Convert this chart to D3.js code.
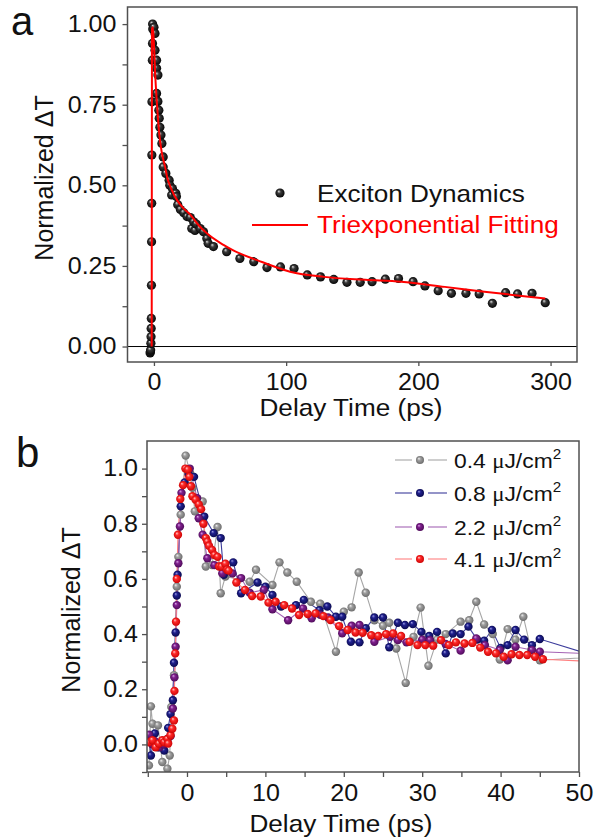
<!DOCTYPE html>
<html>
<head>
<meta charset="utf-8">
<script src="https://cdn.jsdelivr.net/npm/d3@7"></script>
<style>
  body { margin: 0; background: #fff; }
  svg text { font-family: "Liberation Sans", Arial, sans-serif; }
  .sx, .sxl, .sxr { transform-box: fill-box; transform: scaleX(1.09); }
  .sx { transform-origin: center; }
  .sxl { transform-origin: left center; }
  .sxr { transform-origin: right center; }
</style>
</head>
<body>
<svg id="fig" width="595" height="839"></svg>
<script>
// ---- panel a : exciton dynamics (ps, normalized dT)
const timeA = [-2.9, -2.7, -2.5, -2.3, -2.2, -2.1, -2.0, -1.9, -1.8, -1.7, -1.6, -1.5, -1.2, -1.1, -1.0, -0.9, 0.0, 0.8, 0.8,
  2.0, 2.0, 2.0, 3.0, 3.0, 3.7, 4.0, 4.5, 5.3, 6.0, 7.0, 7.0, 9.0, 11.5, 12.0, 13.4, 14.0, 16.5, 17.0, 18.0, 20.0, 22.5,
  25.0, 27.5, 28.6, 30.0, 31.0, 32.0, 35.0, 37.5, 40.0, 41.0, 45.0, 55, 65, 75.5, 85.5, 95.7, 106, 116, 126, 136, 146,
  156, 165, 175, 185, 196, 205, 215, 225, 236, 246, 256, 266, 275, 286, 296];
const excitonA = [-0.02, -0.016, -0.011, 0.01, 0.03, 0.056, 0.087, 0.19, 0.325, 0.444, 0.594, 0.759, 0.888, 0.94, 1.0, 0.985, 0.99, 0.971, 0.919,
  0.888, 0.863, 0.785, 0.842, 0.76, 0.733, 0.708, 0.68, 0.656, 0.63, 0.588, 0.557, 0.537, 0.516, 0.50, 0.47, 0.49, 0.475, 0.465, 0.44, 0.425, 0.415,
  0.403, 0.40, 0.366, 0.387, 0.36, 0.38, 0.366, 0.356, 0.335, 0.32, 0.31, 0.294, 0.273, 0.263, 0.245, 0.247, 0.242, 0.222, 0.216, 0.208, 0.199,
  0.199, 0.201, 0.209, 0.211, 0.201, 0.188, 0.173, 0.165, 0.165, 0.163, 0.134, 0.167, 0.163, 0.165, 0.136];
const fitT = [-1.7, -1.5, -0.8, 0.2, 1.0, 2.0, 3.0, 4.0, 6.0, 8.4, 10, 13, 17.5, 22, 27.3, 33, 40, 52.6, 60, 78, 103, 128.5, 160, 187, 220, 250, 280, 296];
const fitV = [0.0, 0.985, 0.99, 0.92, 0.84, 0.77, 0.71, 0.66, 0.6, 0.558, 0.525, 0.49, 0.454, 0.43, 0.41, 0.38, 0.351, 0.315, 0.298, 0.268, 0.232, 0.216, 0.207, 0.201, 0.185, 0.17, 0.156, 0.149];

// ---- panel b : fluence dependence
const fluenceLabels = ["0.4", "0.8", "2.2", "4.1"];
const t04 = [-4.85, -4.6, -4.4, -4.0, -3.7, -3.15, -2.5, -2.2, -2.0, -1.66, -1.3, -1.1, -0.8, -0.17, 0.4, 0.7, 1.0, 1.5, 2.0, 2.4, 3.2, 3.9, 4.3, 4.9,
  8.0, 8.8, 10.9, 11.8, 12.8, 14.0, 15.8, 17.0, 19.0, 20.0, 21.0, 21.9, 22.8, 23.9, 25.0, 25.8, 26.7, 27.9, 28.9, 29.8, 30.8, 31.9, 33.0,
  34.9, 36.0, 36.9, 37.9, 39.0, 39.9, 40.9, 41.9, 42.9, 43.9, 45.0, 60];
const v04 = [-0.076, 0.138, 0.075, 0.0, 0.069, -0.064, -0.088, -0.04, 0.136, 0.251, 0.572, 0.68, 0.833, 1.047, 0.984, 0.93, 0.845, 0.881, 0.881, 0.645, 0.65, 0.788, 0.548, 0.609,
  0.59, 0.633, 0.578, 0.66, 0.623, 0.59, 0.517, 0.51, 0.336, 0.481, 0.497, 0.623, 0.55, 0.45, 0.43, 0.441, 0.348, 0.223, 0.39, 0.496, 0.285, 0.38, 0.40,
  0.445, 0.45, 0.517, 0.435, 0.40, 0.308, 0.418, 0.38, 0.463, 0.342, 0.305, 0.33];
const t08 = [-4.85, -4.6, -4.1, -3.7, -3.3, -2.9, -2.5, -2.4, -2.1, -1.8, -1.66, -1.45, -1.3, -1.2, -0.8, -0.3, 0.2, 0.9, 2.2, 3.4, 4.3, 4.7, 5.9, 6.9,
  9.0, 10.0, 10.9, 12.0, 13.9, 14.9, 16.9, 17.9, 19.0, 19.8, 20.9, 22.0, 22.8, 23.9, 25.0, 25.8, 26.9, 27.8, 28.8, 29.9, 30.9, 31.9, 33.0, 33.9,
  34.9, 35.9, 37.0, 37.9, 38.9, 40.0, 40.9, 41.9, 43.0, 44.0, 45.0, 60];
const v08 = [0.03, -0.04, 0.04, -0.01, 0.0, -0.022, 0.02, 0.06, 0.11, 0.16, 0.296, 0.406, 0.54, 0.615, 0.863, 0.95, 0.98, 0.97, 0.826, 0.766, 0.748, 0.615, 0.66, 0.548,
  0.587, 0.572, 0.542, 0.50, 0.505, 0.524, 0.487, 0.50, 0.463, 0.463, 0.372, 0.37, 0.421, 0.46, 0.46, 0.352, 0.441, 0.433, 0.436, 0.408, 0.393, 0.408, 0.33, 0.402,
  0.40, 0.427, 0.38, 0.376, 0.415, 0.35, 0.36, 0.415, 0.38, 0.36, 0.382, 0.25];
const t22 = [-4.85, -4.4, -4.0, -3.5, -3.0, -2.5, -2.1, -1.8, -1.6, -1.45, -1.3, -1.1, -0.9, -0.7, 0.35, 1.3, 1.5, 2.0, 2.6, 3.5, 4.5, 5.8, 6.9, 8.0,
  9.8, 10.9, 12.9, 14.8, 15.9, 17.0, 18.0, 19.8, 21.0, 22.0, 23.9, 25.9, 26.9, 28.0, 30.0, 31.0, 33.0, 34.9, 36.9, 38.0, 39.9, 40.9, 41.9, 44.0, 45.0, 60];
const v22 = [0.035, 0.0, 0.01, -0.01, 0.0, 0.01, 0.03, 0.13, 0.243, 0.354, 0.505, 0.657, 0.79, 0.912, 1.0, 0.893, 0.82, 0.76, 0.675, 0.65, 0.62, 0.62, 0.603, 0.55,
  0.56, 0.49, 0.45, 0.493, 0.457, 0.47, 0.46, 0.403, 0.43, 0.433, 0.372, 0.39, 0.378, 0.37, 0.38, 0.378, 0.364, 0.34, 0.384, 0.36, 0.342, 0.305, 0.354, 0.342, 0.336, 0.32];
const t41 = [-4.85, -4.4, -4.0, -3.6, -3.15, -2.9, -2.5, -2.4, -2.1, -1.87, -1.66, -1.6, -1.5, -1.4, -1.3, -1.15, -0.85, -0.5, -0.2, 0.1, 0.3, 0.5, 0.7,
  1.1, 1.5, 1.8, 2.1, 2.4, 2.6, 2.8, 3.2, 3.5, 3.9, 4.1, 4.4, 4.9, 5.1, 5.3, 6.3, 7.4, 8.3, 9.4, 10.4, 11.3, 12.4, 13.4, 14.3, 15.4, 16.4, 17.4,
  18.3, 19.4, 20.5, 21.5, 22.4, 23.5, 24.4, 25.4, 26.3, 27.3, 28.4, 29.4, 30.4, 31.4, 32.4, 33.4, 34.3, 35.4, 36.4, 37.4, 38.4, 39.4, 40.4,
  41.4, 42.4, 43.4, 44.4, 45.4, 60];
const v41 = [0.008, 0.015, -0.01, 0.003, 0.015, 0.008, 0.02, 0.003, 0.033, 0.057, 0.087, 0.194, 0.33, 0.445, 0.6, 0.76, 0.89, 0.94, 1.0, 0.996, 0.97, 0.936, 0.9,
  0.887, 0.87, 0.853, 0.8, 0.748, 0.735, 0.72, 0.705, 0.687, 0.68, 0.645, 0.645, 0.655, 0.633, 0.63, 0.587, 0.56, 0.538, 0.536, 0.514, 0.517, 0.505, 0.493, 0.469, 0.473, 0.475, 0.465,
  0.451, 0.429, 0.415, 0.406, 0.405, 0.396, 0.393, 0.40, 0.402, 0.393, 0.372, 0.36, 0.36, 0.358, 0.378, 0.36, 0.37, 0.366, 0.368, 0.351, 0.336, 0.33, 0.318,
  0.327, 0.324, 0.324, 0.318, 0.309, 0.29];

const seriesB = [
  {label: fluenceLabels[0], t: t04, v: v04, ball: "ball-gray", line: "#a6a6a6"},
  {label: fluenceLabels[1], t: t08, v: v08, ball: "ball-navy", line: "#3c3c9c"},
  {label: fluenceLabels[2], t: t22, v: v22, ball: "ball-purple", line: "#a564b4"},
  {label: fluenceLabels[3], t: t41, v: v41, ball: "ball-red", line: "#ff8080"}
];

const frameColor = "#505050";
const svg = d3.select("#fig");

// shaded ball gradients
const defs = svg.append("defs");
function ball(id, hi, mid, lo) {
  const g = defs.append("radialGradient").attr("id", id)
    .attr("cx", "50%").attr("cy", "50%").attr("r", "55%").attr("fx", "35%").attr("fy", "30%");
  g.append("stop").attr("offset", "0%").attr("stop-color", hi);
  g.append("stop").attr("offset", "35%").attr("stop-color", mid);
  g.append("stop").attr("offset", "100%").attr("stop-color", lo);
}
ball("ball-black", "#e0e0e0", "#3a3a3a", "#000");
ball("ball-gray", "#f2f2f2", "#a0a0a0", "#666");
ball("ball-navy", "#9a9ae0", "#20208e", "#08084a");
ball("ball-purple", "#d9a0e6", "#80208e", "#4a0a55");
ball("ball-red", "#ffd0d0", "#ff2a2a", "#c80000");

// orient: "left" axis labels grow leftwards, bottom ones about their centre
function styleAxis(g, orient) {
  g.selectAll(".domain").remove();
  g.selectAll("line").attr("stroke", frameColor).attr("stroke-width", 1.3);
  g.selectAll("text").attr("font-size", 23).attr("fill", "#111")
    .classed(orient == "left" ? "sxr" : "sx", true);
}

// ================= panel a =================
const ax = d3.scaleLinear().domain([-20, 320]).range([127.5, 577]);
const ay = d3.scaleLinear().domain([-0.048, 1.053]).range([362, 7]);

const pa = svg.append("g").classed("panel-a", true);
pa.append("clipPath").attr("id", "clipA").append("rect")
  .attr("x", 127.5).attr("y", 7).attr("width", 449.5).attr("height", 355);

pa.append("g").attr("transform", "translate(127.5,0)")
  .call(d3.axisLeft(ay).tickValues([0.125, 0.375, 0.625, 0.875]).tickSize(5).tickFormat(""))
  .call(styleAxis, "left");
pa.append("g").attr("transform", "translate(127.5,0)")
  .call(d3.axisLeft(ay).tickValues([0, 0.25, 0.5, 0.75, 1.0]).tickSize(5).tickPadding(6).tickFormat(d3.format(".2f")))
  .call(styleAxis, "left");
pa.append("g").attr("transform", "translate(0,362)")
  .call(d3.axisBottom(ax).tickValues([0, 100, 200, 300]).tickSize(4).tickPadding(8))
  .call(styleAxis, "bottom");

// zero line
pa.append("line").attr("x1", 127.5).attr("x2", 577).attr("y1", ay(0)).attr("y2", ay(0))
  .attr("stroke", "#000").attr("stroke-width", 1);

const dataA = timeA.map((t, i) => [t, excitonA[i]]);
pa.append("g").attr("clip-path", "url(#clipA)")
  .selectAll("circle").data(dataA).join("circle")
  .attr("cx", d => ax(d[0])).attr("cy", d => ay(d[1])).attr("r", 4.6)
  .attr("fill", "url(#ball-black)");

const fitLine = d3.line().x(d => ax(d[0])).y(d => ay(d[1])).curve(d3.curveMonotoneX);
pa.append("path").attr("clip-path", "url(#clipA)")
  .datum(fitT.map((t, i) => [t, fitV[i]]))
  .attr("d", fitLine).attr("fill", "none").attr("stroke", "#ff0000").attr("stroke-width", 2);

pa.append("rect").attr("x", 127.5).attr("y", 7).attr("width", 449.5).attr("height", 355)
  .attr("fill", "none").attr("stroke", frameColor).attr("stroke-width", 1.5);

// legend a
pa.append("circle").attr("cx", 280).attr("cy", 193).attr("r", 4.6).attr("fill", "url(#ball-black)");
pa.append("text").attr("x", 317).attr("y", 202).attr("font-size", 24).attr("fill", "#111")
  .classed("sxl", true).text("Exciton Dynamics");
pa.append("line").attr("x1", 252).attr("x2", 308).attr("y1", 225).attr("y2", 225)
  .attr("stroke", "#ff0000").attr("stroke-width", 2);
pa.append("text").attr("x", 317).attr("y", 233).attr("font-size", 24).attr("fill", "#ff0000")
  .classed("sxl", true).text("Triexponential Fitting");

pa.append("text").attr("x", 351).attr("y", 416).attr("text-anchor", "middle").attr("font-size", 24)
  .attr("fill", "#111").classed("sx", true).text("Delay Time (ps)");
pa.append("text").attr("transform", "translate(53,178) rotate(-90)").attr("text-anchor", "middle")
  .attr("font-size", 25).attr("fill", "#111").text("Normalized ΔT");
pa.append("text").attr("x", 11).attr("y", 35).attr("font-family", "'Open Sans', sans-serif")
  .attr("font-size", 40).attr("fill", "#111").text("a");

// ================= panel b =================
const bx = d3.scaleLinear().domain([-5.1, 50]).range([147, 579]);
const by = d3.scaleLinear().domain([-0.1, 1.1]).range([772, 441]);

const pb = svg.append("g").classed("panel-b", true);
pb.append("clipPath").attr("id", "clipB").append("rect")
  .attr("x", 147).attr("y", 441).attr("width", 432).attr("height", 331);

pb.append("g").attr("transform", "translate(147,0)")
  .call(d3.axisLeft(by).tickValues([-0.1, 0.1, 0.3, 0.5, 0.7, 0.9]).tickSize(5).tickFormat(""))
  .call(styleAxis, "left");
pb.append("g").attr("transform", "translate(147,0)")
  .call(d3.axisLeft(by).tickValues([0, 0.2, 0.4, 0.6, 0.8, 1.0]).tickSize(5).tickPadding(4).tickFormat(d3.format(".1f")))
  .call(styleAxis, "left");
pb.append("g").attr("transform", "translate(0,772)")
  .call(d3.axisBottom(bx).tickValues([-5, 5, 15, 25, 35, 45]).tickSize(5).tickFormat(""))
  .call(styleAxis, "bottom");
pb.append("g").attr("transform", "translate(0,772)")
  .call(d3.axisBottom(bx).tickValues([0, 10, 20, 30, 40, 50]).tickSize(5).tickPadding(8))
  .call(styleAxis, "bottom");

const lineB = d3.line().x(d => bx(d[0])).y(d => by(d[1]));
const plot = pb.append("g").attr("clip-path", "url(#clipB)");
seriesB.forEach(s => {
  const pts = s.t.map((t, i) => [t, s.v[i]]);
  plot.append("path").datum(pts).attr("d", lineB)
    .attr("fill", "none").attr("stroke", s.line).attr("stroke-width", 1.1);
});
seriesB.forEach(s => {
  const pts = s.t.map((t, i) => [t, s.v[i]]).filter(d => d[0] <= 50);
  plot.append("g").selectAll("circle").data(pts).join("circle")
    .attr("cx", d => bx(d[0])).attr("cy", d => by(d[1])).attr("r", 4.2)
    .attr("fill", "url(#" + s.ball + ")");
});

pb.append("rect").attr("x", 147).attr("y", 441).attr("width", 432).attr("height", 331)
  .attr("fill", "none").attr("stroke", frameColor).attr("stroke-width", 1.5);

// legend b
const legY = [460, 493, 527, 559];
seriesB.forEach((s, i) => {
  const g = pb.append("g");
  g.append("line").attr("x1", 395).attr("x2", 412).attr("y1", legY[i]).attr("y2", legY[i])
    .attr("stroke", s.line).attr("stroke-width", 1.1);
  g.append("line").attr("x1", 428).attr("x2", 447).attr("y1", legY[i]).attr("y2", legY[i])
    .attr("stroke", s.line).attr("stroke-width", 1.1);
  g.append("circle").attr("cx", 420).attr("cy", legY[i]).attr("r", 4).attr("fill", "url(#" + s.ball + ")");
  const t = g.append("text").attr("x", 454).attr("y", legY[i] + 8).attr("font-size", 21)
    .attr("fill", "#111").classed("sxl", true);
  t.append("tspan").text(s.label + " ");
  t.append("tspan").attr("font-family", "'Liberation Serif', serif").text("μ");
  t.append("tspan").text("J/cm");
  t.append("tspan").attr("font-size", 14).attr("dy", -9).text("2");
});

pb.append("text").attr("x", 341).attr("y", 832).attr("text-anchor", "middle").attr("font-size", 24)
  .attr("fill", "#111").classed("sx", true).text("Delay Time (ps)");
pb.append("text").attr("transform", "translate(80,610) rotate(-90)").attr("text-anchor", "middle")
  .attr("font-size", 25).attr("fill", "#111").text("Normalized ΔT");
pb.append("text").attr("x", 16).attr("y", 467).attr("font-family", "'Open Sans', sans-serif")
  .attr("font-size", 42).attr("fill", "#111").text("b");
</script>
</body>
</html>
